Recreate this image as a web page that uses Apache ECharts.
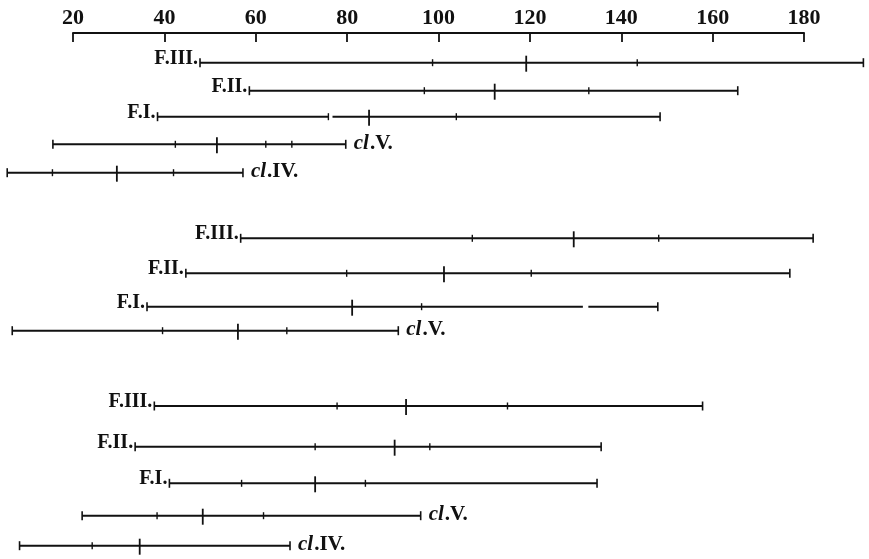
<!DOCTYPE html>
<html><head><meta charset="utf-8">
<script src="https://cdn.jsdelivr.net/npm/echarts@6/dist/echarts.min.js"></script>
<style>html,body{margin:0;padding:0;background:#fff}#c{width:869px;height:559px}</style>
</head><body><div id="c"></div>
<script>
// ---- data ----
const scaleTicks = [20, 40, 60, 80, 100, 120, 140, 160, 180];
const rowLabels = ['F.III.', 'F.II.', 'F.I.', 'cl.V.', 'cl.IV.',
                   'F.III.', 'F.II.', 'F.I.', 'cl.V.',
                   'F.III.', 'F.II.', 'F.I.', 'cl.V.', 'cl.IV.'];
const rangeMin = [47.8, 58.6, 38.5, 15.6, 5.6, 56.7, 44.7, 36.2, 6.7, 37.8, 33.6, 41.1, 22.0, 8.3];
const rangeMax = [193.0, 165.5, 148.5, 79.7, 57.2, 182.0, 176.9, 148.0, 91.2, 157.8, 135.6, 134.7, 96.1, 67.5];
const mainMark = [119.2, 112.3, 84.8, 51.5, 29.6, 129.6, 101.2, 81.1, 56.1, 92.9, 90.4, 73.0, 48.4, 34.6];
const minorMarks = [[98.7, 143.5], [96.9, 132.9], [75.9, 103.9], [42.4, 62.2, 67.9], [15.5, 42.0],
                    [107.4, 148.2], [79.9, 120.3], [96.3], [39.6, 66.8],
                    [77.8, 115.1], [73.0, 98.1], [56.9, 84.0], [38.4, 61.7], [24.2]];
const lineBreaks = [[], [], [[75.9, 76.8]], [], [], [], [], [[131.6, 132.8]], [], [], [], [], [], []];

// ---- layout (row placement below the scale, in axis units) ----
const rowPos = [29.7, 57.7, 83.7, 111.3, 139.7, 205.3, 240.3, 273.7, 297.7, 373, 413.7, 450.3, 482.7, 512.7];

const INK = '#111';
const FONT = '"Liberation Serif", "DejaVu Serif", serif';

function labelText(s) {
  if (s.indexOf('cl') === 0) return '{i|cl}{n|' + s.slice(2) + '}';
  return '{n|' + s + '}';
}

function renderItem(params, api) {
  const i = api.value(0);
  const yv = rowPos[i];
  const p0 = api.coord([rangeMin[i], yv]);
  const p1 = api.coord([rangeMax[i], yv]);
  const y = p0[1];
  const children = [];
  let segs = [];
  let start = rangeMin[i];
  lineBreaks[i].forEach(b => { segs.push([start, b[0]]); start = b[1]; });
  segs.push([start, rangeMax[i]]);
  segs.forEach(s => {
    const a = api.coord([s[0], yv])[0], b = api.coord([s[1], yv])[0];
    children.push({type: 'line', shape: {x1: a, y1: y, x2: b, y2: y},
      style: {stroke: INK, lineWidth: 2}});
  });
  [p0[0], p1[0]].forEach(x => children.push({type: 'line',
    shape: {x1: x, y1: y - 4.5, x2: x, y2: y + 4.5}, style: {stroke: INK, lineWidth: 1.6}}));
  minorMarks[i].forEach(v => {
    const x = api.coord([v, yv])[0];
    children.push({type: 'line', shape: {x1: x, y1: y - 3.5, x2: x, y2: y + 3.5},
      style: {stroke: INK, lineWidth: 1.4}});
  });
  const xm = api.coord([mainMark[i], yv])[0];
  children.push({type: 'line', shape: {x1: xm, y1: y - 7, x2: xm, y2: y + 9},
    style: {stroke: INK, lineWidth: 1.8}});
  const isCl = rowLabels[i].indexOf('cl') === 0;
  const fs = isCl ? 21 : 20;
  children.push({type: 'text', x: isCl ? p1[0] + 8 : p0[0] - 2, y: y - (isCl ? 1 : 4),
    style: {text: labelText(rowLabels[i]), align: isCl ? 'left' : 'right', verticalAlign: 'middle',
      rich: {
        n: {fontFamily: FONT, fontWeight: 'bold', fontSize: fs, fill: INK},
        i: {fontFamily: FONT, fontWeight: 'bold', fontStyle: 'italic', fontSize: fs, fill: INK, padding: [0, 1, 0, 0]}
      }}});
  return {type: 'group', children};
}

const chart = echarts.init(document.getElementById('c'), null, {renderer: 'canvas'});
chart.setOption({
  backgroundColor: '#fff',
  animation: false,
  grid: {left: 73, right: 65, top: 33, bottom: 0},
  xAxis: {
    type: 'value', position: 'top', min: scaleTicks[0], max: scaleTicks[scaleTicks.length - 1], interval: 20,
    axisLine: {show: true, lineStyle: {color: INK, width: 2}},
    axisTick: {show: true, inside: true, length: 9, lineStyle: {color: INK, width: 1.8}},
    axisLabel: {color: INK, fontFamily: FONT, fontWeight: 'bold', fontSize: 22, margin: 4},
    splitLine: {show: false}
  },
  yAxis: {type: 'value', min: 0, max: 526, inverse: true, show: false},
  series: [{
    type: 'custom', clip: false,
    renderItem: renderItem,
    data: rowLabels.map((_, i) => [i])
  }]
});
</script>
</body></html>
